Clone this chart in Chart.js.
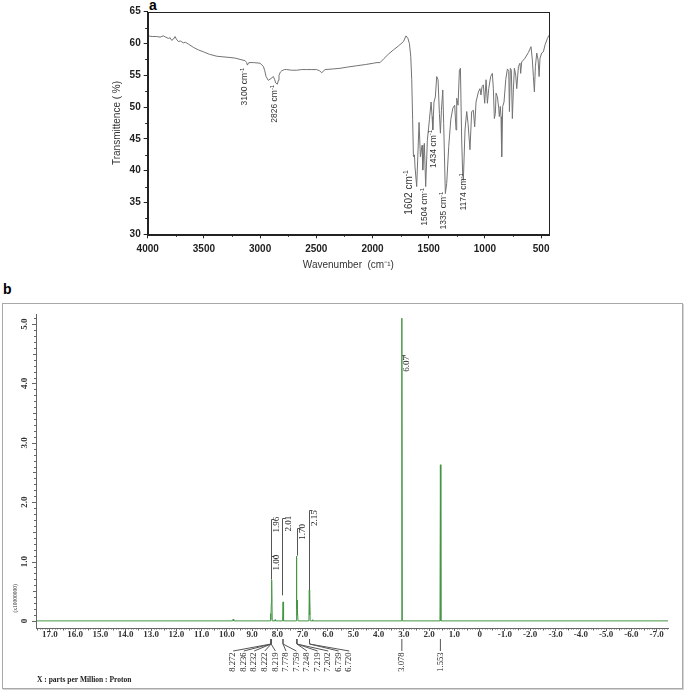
<!DOCTYPE html>
<html><head><meta charset="utf-8">
<script src="https://cdn.jsdelivr.net/npm/chart.js@4.4.1/dist/chart.umd.min.js"></script>
<style>
html,body{margin:0;padding:0;background:#fff;width:685px;height:693px;overflow:hidden;position:relative;}
#irWrap{position:absolute;left:95px;top:0;width:470px;height:280px;}
#nmrFrame{position:absolute;left:2px;top:303px;width:679px;height:384px;border:1px solid #a8a8a8;box-shadow:1px 1px 0 #d4d4d4;}
#nmrWrap{position:absolute;left:0;top:295px;width:685px;height:398px;}
.lbl{position:absolute;font:bold 14px "Liberation Sans",Arial,sans-serif;color:#000;}
</style></head>
<body>
<div class="lbl" style="left:149px;top:-3px;">a</div>
<div class="lbl" style="left:3px;top:281px;">b</div>
<div id="nmrFrame"></div>
<div id="irWrap"><canvas id="ir" width="470" height="280"></canvas></div>
<div id="nmrWrap"><canvas id="nmr" width="685" height="398"></canvas></div>
<script>
// ---------- IR spectrum (panel a) ----------
const irWavenumber = [4000,3960,3920,3890,3861,3840,3816,3800,3787,3770,3757,3745,3727,3710,3683,3665,3638,3594,3550,3505,3450,3386,3330,3268,3220,3179,3134,3120,3113,3105,3099,3060,3001,2971,2960,2947,2927,2903,2882,2870,2861,2846,2838,2832,2820,2808,2785,2763,2720,2674,2630,2585,2540,2497,2470,2452,2440,2422,2350,2289,2220,2141,2060,1992,1960,1933,1900,1860,1814,1770,1725,1702,1685,1672,1660,1651,1643,1636,1627,1622,1607,1586,1574,1559,1553,1539,1527,1512,1494,1479,1470,1464,1453,1441,1429,1417,1405,1396,1387,1375,1367,1352,1340,1322,1304,1286,1269,1257,1251,1239,1227,1218,1207,1198,1192,1177,1162,1150,1133,1118,1103,1091,1079,1058,1044,1035,1026,1014,1002,990,978,966,949,934,925,916,907,901,889,877,872,863,857,851,842,830,815,800,788,782,774,765,756,747,738,726,717,702,688,682,673,643,613,590,578,569,560,551,539,527,518,510,495,480,465,444,430];
const irTransmittance = [61.2,61.1,61.1,61.0,61.2,61.0,60.8,60.9,60.5,60.7,61.1,60.7,60.3,60.4,60.1,60.2,59.9,59.4,59.0,58.7,58.3,58.0,57.9,57.8,57.7,57.5,57.3,57.0,56.6,56.9,57.0,57.0,56.9,56.4,55.8,54.8,54.2,54.5,54.8,54.3,53.8,53.6,54.2,55.0,55.5,55.7,55.9,55.9,55.8,55.8,55.9,55.9,55.9,55.9,55.7,55.4,55.6,55.9,56.0,56.1,56.3,56.5,56.7,56.9,57.0,57.0,57.6,58.3,59.0,59.6,60.3,61.2,60.8,60.0,58.0,54.3,48.0,42.2,42.5,40.6,37.5,47.6,42.2,44.0,40.1,44.3,37.5,44.8,48.0,50.8,48.5,46.4,50.8,51.6,54.8,54.3,49.0,45.9,49.5,52.7,47.4,36.4,38.0,43.8,48.0,49.8,50.3,46.4,51.4,50.3,55.8,56.1,45.0,39.6,38.5,46.4,49.3,47.4,43.3,49.3,49.5,46.9,50.8,52.4,52.9,51.9,53.2,53.5,50.6,54.3,50.6,52.9,54.8,55.3,52.9,48.2,49.0,52.2,51.6,49.8,48.5,50.1,48.5,42.2,50.1,50.8,54.3,56.0,55.6,49.3,56.1,55.8,48.2,52.7,56.1,55.0,52.9,56.4,56.9,55.3,57.1,57.7,58.6,59.5,57.4,54.8,52.4,56.4,58.5,57.4,54.8,57.7,58.5,58.7,59.8,60.8,61.3];
const irXTicks = [4000,3500,3000,2500,2000,1500,1000,500];
const irYTicks = [30,35,40,45,50,55,60,65];
const irPeakText = ['3100','2826','1602','1504','1434','1335','1174'];
const irPeakAnchorWn = [3134,2867,1671,1533,1459,1364,1186];
const irPeakAnchorT = [56.2,53.5,40.1,37.3,46.4,36.7,39.6];

// ---------- 1H NMR spectrum (panel b) ----------
const nmrPpm = [17.55,9.77,9.75,9.73,8.29,8.272,8.255,8.240,8.236,8.232,8.227,8.222,8.219,8.205,8.10,8.09,8.08,7.795,7.778,7.768,7.759,7.745,7.265,7.248,7.233,7.219,7.210,7.202,7.185,6.755,6.739,6.730,6.720,6.705,6.62,6.61,6.60,3.095,3.078,3.060,1.570,1.553,1.535,-7.45];
const nmrIntensity = [0,0,0.03,0,0,0.12,0.02,0.30,0.60,0.62,0.45,0.69,0.66,0,0,0.02,0,0,0.32,0.10,0.20,0,0,1.09,0.20,0.35,0.10,0.15,0,0,0.52,0.10,0.45,0,0,0.02,0,0,5.10,0,0,2.63,0,0];
const nmrXTicks = [17,16,15,14,13,12,11,10,9,8,7,6,5,4,3,2,1,0,-1,-2,-3,-4,-5,-6,-7];
const nmrYTicks = [0,1,2,3,4,5];
const nmrPeakText = ['8.272','8.236','8.232','8.222','8.219','7.778','7.759','7.248','7.219','7.202','6.739','6.720','3.078','1.553'];
const nmrPeakShift = [8.25,8.25,8.25,8.25,8.25,7.78,7.78,7.23,7.23,7.23,6.73,6.73,3.078,1.553];
const nmrPeakLabelShift = [9.75,9.33,8.92,8.50,8.08,7.66,7.25,6.83,6.41,5.99,5.58,5.16,3.078,1.553];
const integShift = [8.26,8.26,7.80,7.24,6.77,3.078];
const integFrom = [0.70,0.70,0.43,1.10,0.52,4.46];
const integTo = [1.71,1.09,1.73,1.56,1.86,4.48];
const integText = ['1.00','1.96','2.01','1.70','2.15','6.07'];
const integTextShift = [8.05,8.02,7.56,7.00,6.52,2.88];
const integTextValue = [0.98,1.62,1.64,1.50,1.73,4.33];

const SANS = '"Liberation Sans", Arial, sans-serif';
const SERIF = '"Liberation Serif", "Times New Roman", serif';

function fixedTicks(arr){ return (scale)=>{ scale.ticks = arr.map(v=>({value:v})); }; }

const irDecor = {
  id:'irDecor',
  afterDraw(chart){
    const {ctx, chartArea:ca, scales:{x,y}} = chart;
    ctx.save();
    ctx.strokeStyle = '#222'; ctx.lineWidth = 1;
    ctx.strokeRect(Math.round(ca.left)+0.5, Math.round(ca.top)+0.5, Math.round(ca.right-ca.left), Math.round(ca.bottom-ca.top));
    ctx.beginPath();
    for (let k=0;k<irXTicks.length-1;k++){
      const v = (irXTicks[k]+irXTicks[k+1])/2;
      const px = Math.round(x.getPixelForValue(v))+0.5;
      ctx.moveTo(px, ca.bottom); ctx.lineTo(px, ca.bottom+2.5);
    }
    for (let k=0;k<irYTicks.length-1;k++){
      const v = (irYTicks[k]+irYTicks[k+1])/2;
      const py = Math.round(y.getPixelForValue(v))+0.5;
      ctx.moveTo(ca.left, py); ctx.lineTo(ca.left-2.5, py);
    }
    ctx.stroke();
    // peak annotations
    ctx.fillStyle = '#333';
    for (let k=0;k<irPeakText.length;k++){
      const big = irPeakText[k]==='1602';
      const fs = big?10:8.5;
      const px = x.getPixelForValue(irPeakAnchorWn[k]);
      const py = y.getPixelForValue(irPeakAnchorT[k]);
      ctx.save();
      ctx.translate(px, py);
      ctx.rotate(-Math.PI/2);
      ctx.font = (fs*0.7)+'px '+SANS;
      const sw = ctx.measureText('-1').width;
      ctx.textAlign='right'; ctx.textBaseline='middle';
      ctx.fillText('-1', 0, -fs*0.35);
      ctx.font = fs+'px '+SANS;
      ctx.fillText(irPeakText[k]+' cm', -sw, 0);
      ctx.restore();
    }
    ctx.restore();
  }
};

new Chart(document.getElementById('ir'), {
  type:'line',
  data:{datasets:[{data: irWavenumber.map((w,i)=>({x:w,y:irTransmittance[i]})), borderColor:'#737373', borderWidth:1, pointRadius:0, tension:0, fill:false}]},
  options:{
    responsive:false, animation:false, devicePixelRatio:1,
    layout:{padding:{left:0,right:16,top:11.7,bottom:0}},
    plugins:{legend:{display:false},tooltip:{enabled:false}},
    scales:{
      x:{type:'linear',reverse:true,min:430,max:4000,
        afterBuildTicks: fixedTicks(irXTicks),
        afterFit:s=>{s.height=45.7;},
        ticks:{autoSkip:false,maxRotation:0,minRotation:0,font:{family:SANS,size:10,weight:'bold'},color:'#222',padding:5,callback:v=>String(v)},
        grid:{display:true,drawOnChartArea:false,drawTicks:true,tickLength:4,color:'#222'},
        border:{display:true,color:'#222',width:1},
        title:{display:true,text:'Wavenumber  (cm⁻¹)',font:{family:SANS,size:10},color:'#333',padding:{top:0,bottom:9}}
      },
      y:{type:'linear',min:30,max:65,
        afterBuildTicks: fixedTicks(irYTicks),
        afterFit:s=>{s.width=52.7;},
        ticks:{font:{family:SANS,size:10,weight:'bold'},color:'#222',padding:3,callback:v=>String(v)},
        grid:{display:true,drawOnChartArea:false,drawTicks:true,tickLength:4,color:'#222'},
        border:{display:true,color:'#222',width:1},
        title:{display:true,text:'Transmittence ( %)',font:{family:SANS,size:10},color:'#333',padding:{top:16,bottom:0}}
      }
    }
  },
  plugins:[irDecor]
});

const nmrDecor = {
  id:'nmrDecor',
  afterDraw(chart){
    const {ctx, chartArea:ca, scales:{x,y}} = chart;
    ctx.save();
    ctx.strokeStyle = '#666'; ctx.lineWidth = 1;
    ctx.beginPath();
    for (let i=-74;i<=175;i++){
      if (i%10===0) continue;
      const px = Math.round(x.getPixelForValue(i/10))+0.5;
      const len = (i%5===0)?2.5:1.5;
      ctx.moveTo(px, ca.bottom); ctx.lineTo(px, ca.bottom+len);
    }
    for (let i=0;i<=51;i++){
      const py = Math.round(y.getPixelForValue(i/10))+0.5;
      const len = (i%10===0)?4:((i%5===0)?3:2);
      ctx.moveTo(ca.left, py); ctx.lineTo(ca.left-len, py);
    }
    ctx.stroke();
    // y tick labels (rotated)
    ctx.fillStyle = '#333';
    ctx.font = 'bold 9px '+SERIF;
    for (const v of nmrYTicks){
      const py = y.getPixelForValue(v);
      ctx.save(); ctx.translate(ca.left-11, py); ctx.rotate(-Math.PI/2);
      ctx.textAlign='center'; ctx.textBaseline='middle';
      ctx.fillText(v===0?'0':v.toFixed(1), 0, 0);
      ctx.restore();
    }
    // y unit
    ctx.font = '5.5px '+SERIF;
    ctx.save(); ctx.translate(ca.left-20, y.getPixelForValue(0.38)); ctx.rotate(-Math.PI/2);
    ctx.textAlign='center'; ctx.textBaseline='middle'; ctx.fillText('(x10000000)',0,0); ctx.restore();
    // integration marks
    ctx.strokeStyle = '#555'; ctx.beginPath();
    for (let k=0;k<integShift.length;k++){
      const px = Math.round(x.getPixelForValue(integShift[k]))+0.5;
      const yb = y.getPixelForValue(integFrom[k]);
      const yt = Math.round(y.getPixelForValue(integTo[k]))+0.5;
      ctx.moveTo(px, yb); ctx.lineTo(px, yt); ctx.lineTo(px+3, yt);
    }
    ctx.stroke();
    ctx.fillStyle = '#222';
    ctx.font = '9px '+SERIF;
    for (let k=0;k<integText.length;k++){
      const px = x.getPixelForValue(integTextShift[k]);
      const py = y.getPixelForValue(integTextValue[k]);
      ctx.save(); ctx.translate(px, py); ctx.rotate(-Math.PI/2);
      ctx.textAlign='center'; ctx.textBaseline='middle'; ctx.fillText(integText[k],0,0); ctx.restore();
    }
    // peak labels with leader lines
    const y0 = ca.bottom + 11, y1 = ca.bottom + 16, y2 = ca.bottom + 23;
    ctx.strokeStyle = '#555'; ctx.beginPath();
    for (let k=0;k<nmrPeakText.length;k++){
      const p0 = x.getPixelForValue(nmrPeakShift[k]);
      const p2 = x.getPixelForValue(nmrPeakLabelShift[k]);
      ctx.moveTo(p0, y0); ctx.lineTo(p0, y1); ctx.lineTo(p2, y2);
    }
    ctx.stroke();
    ctx.font = '8.5px '+SERIF;
    for (let k=0;k<nmrPeakText.length;k++){
      const p2 = x.getPixelForValue(nmrPeakLabelShift[k]);
      ctx.save(); ctx.translate(p2, y2+1.5); ctx.rotate(-Math.PI/2);
      ctx.textAlign='right'; ctx.textBaseline='middle'; ctx.fillText(nmrPeakText[k],0,0); ctx.restore();
    }
    // x axis caption
    ctx.font = 'bold 7.5px '+SERIF;
    ctx.textAlign='left'; ctx.textBaseline='middle';
    ctx.fillText('X : parts per Million : Proton', ca.left+1, ca.bottom+52);
    ctx.restore();
  }
};

new Chart(document.getElementById('nmr'), {
  type:'line',
  data:{datasets:[{data: nmrPpm.map((p,i)=>({x:p,y:nmrIntensity[i]})), borderColor:'#449544', borderWidth:1, pointRadius:0, tension:0, fill:false, borderJoinStyle:'bevel'}]},
  options:{
    responsive:false, animation:false, devicePixelRatio:1,
    layout:{padding:{left:0,right:17,top:19,bottom:0}},
    plugins:{legend:{display:false},tooltip:{enabled:false}},
    scales:{
      x:{type:'linear',reverse:true,min:-7.45,max:17.55,
        afterBuildTicks: fixedTicks(nmrXTicks),
        afterFit:s=>{s.height=65;},
        ticks:{autoSkip:false,maxRotation:0,minRotation:0,font:{family:SERIF,size:9,weight:'bold'},color:'#333',padding:-2,callback:v=>(v===0?'0':Number(v).toFixed(1))},
        grid:{display:true,drawOnChartArea:false,drawTicks:true,tickLength:3,color:'#666'},
        border:{display:true,color:'#666',width:1}
      },
      y:{type:'linear',min:-0.12,max:5.17,
        afterBuildTicks: fixedTicks(nmrYTicks),
        afterFit:s=>{s.width=36;},
        ticks:{display:false},
        grid:{display:false},
        border:{display:true,color:'#666',width:1}
      }
    }
  },
  plugins:[nmrDecor]
});
</script>
</body></html>
